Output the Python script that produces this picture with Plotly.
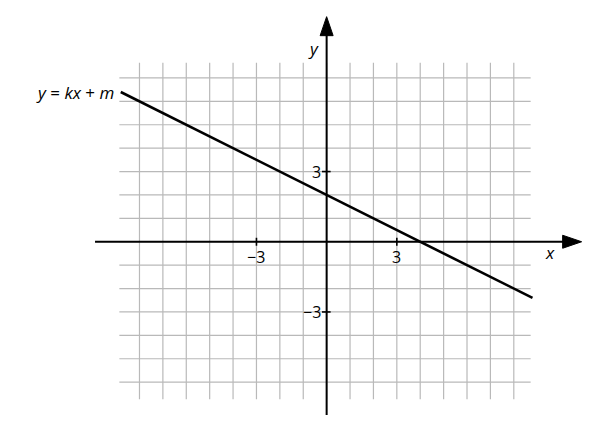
#Import Required Libraries
import plotly.graph_objects as go

#Data
grid_x = list(range(-8, 9))          # vertical grid lines
grid_y = list(range(-6, 8))          # horizontal grid lines
grid_x_span = [-8.86, 8.72]          # how far the horizontal lines reach
grid_y_span = [-6.73, 7.65]          # how far the vertical lines reach
axis_x_span = [-9.9, 10.9]
axis_y_span = [-7.4, 9.62]
tick_values = [-3, 3]
tick_labels = ['\u22123', '3']
line_x = [-8.8, 8.8]
line_y = [6.4, -2.4]
line_label = '<i>y</i> = <i>kx</i> + <i>m</i>'

FONT = 'Open Sans'
GRID_COLOR = '#b9b9b9'

figure = go.Figure()

#The line y = kx + m
figure.add_trace(go.Scatter(x=line_x, y=line_y, mode='lines',
                            line=dict(color='black', width=2.6),
                            hoverinfo='skip', showlegend=False))

shapes = []

#Grid
for gx in grid_x:
    shapes.append(dict(type='line', xref='x', yref='y', x0=gx, x1=gx,
                       y0=grid_y_span[0], y1=grid_y_span[1],
                       line=dict(color=GRID_COLOR, width=1.2), layer='below'))
for gy in grid_y:
    shapes.append(dict(type='line', xref='x', yref='y', y0=gy, y1=gy,
                       x0=grid_x_span[0], x1=grid_x_span[1],
                       line=dict(color=GRID_COLOR, width=1.2), layer='below'))

#Axes
shapes.append(dict(type='line', xref='x', yref='y', x0=axis_x_span[0], x1=axis_x_span[1] - 0.5,
                   y0=0, y1=0, line=dict(color='black', width=2)))
shapes.append(dict(type='line', xref='x', yref='y', y0=axis_y_span[0], y1=axis_y_span[1] - 0.5,
                   x0=0, x1=0, line=dict(color='black', width=2)))

#Arrow heads
shapes.append(dict(type='path', xref='x', yref='y', xsizemode='pixel', ysizemode='pixel',
                   xanchor=axis_x_span[1], yanchor=0, path='M0,0 L-19,6.5 L-19,-6.5 Z',
                   fillcolor='black', line=dict(color='black', width=1)))
shapes.append(dict(type='path', xref='x', yref='y', xsizemode='pixel', ysizemode='pixel',
                   xanchor=0, yanchor=axis_y_span[1], path='M0,0 L-6.5,-19 L6.5,-19 Z',
                   fillcolor='black', line=dict(color='black', width=1)))

#Ticks
for t in tick_values:
    shapes.append(dict(type='line', xref='x', yref='y', x0=t, x1=t, y0=-0.17, y1=0.17,
                       line=dict(color='black', width=1.6)))
    shapes.append(dict(type='line', xref='x', yref='y', y0=t, y1=t, x0=-0.2, x1=0.17,
                       line=dict(color='black', width=1.6)))

annotations = []
for t, lab in zip(tick_values, tick_labels):
    annotations.append(dict(x=t, y=0, text=lab, showarrow=False, yshift=-15,
                            xanchor='center', yanchor='middle',
                            font=dict(family=FONT, size=16, color='black')))
    annotations.append(dict(x=0, y=t, text=lab, showarrow=False, xshift=-4,
                            xanchor='right', yanchor='middle',
                            font=dict(family=FONT, size=16, color='black')))

#Axis names and line label
annotations.append(dict(x=axis_x_span[1] - 1.35, y=0, text='<i>x</i>', showarrow=False,
                        yshift=-11, font=dict(family=FONT, size=17, color='black')))
annotations.append(dict(x=0, y=axis_y_span[1] - 1.35, text='<i>y</i>', showarrow=False,
                        xshift=-13, font=dict(family=FONT, size=17, color='black')))
annotations.append(dict(x=line_x[0], y=line_y[0], text=line_label, showarrow=False,
                        xanchor='right', xshift=-5, yanchor='middle',
                        font=dict(family=FONT, size=17, color='black')))

#The page keeps an 8px body margin, so the figure is 8px smaller than the window
figure.update_layout(
    width=605, height=431,
    margin=dict(l=0, r=0, t=0, b=0),
    plot_bgcolor='white', paper_bgcolor='white',
    xaxis=dict(range=[-13.62, 12.24], visible=False, fixedrange=True),
    yaxis=dict(range=[-8.43, 9.99], visible=False, fixedrange=True),
    shapes=shapes,
    annotations=annotations,
)

figure.write_html('out.html')
